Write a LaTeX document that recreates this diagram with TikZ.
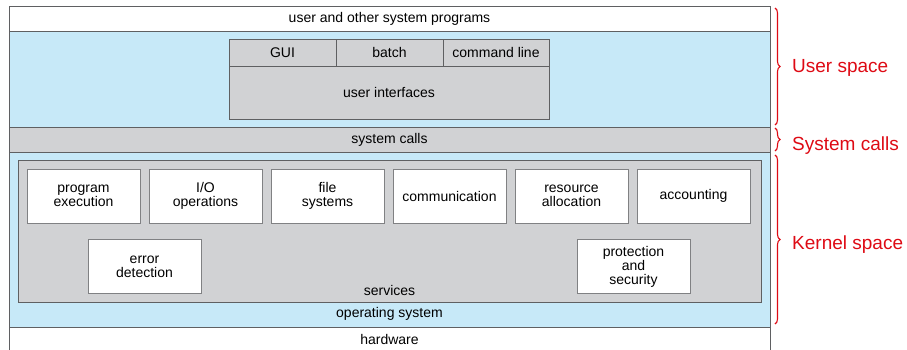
\documentclass[tikz,border=0pt]{standalone}
\usepackage{fontspec}
\setmainfont{Liberation Sans}
\usetikzlibrary{positioning,decorations.pathreplacing}

\definecolor{layerblue}{RGB}{199,233,248}
\definecolor{layergray}{RGB}{209,210,212}
\definecolor{edgegray}{RGB}{95,96,98}
\definecolor{boxedge}{RGB}{128,129,131}
\definecolor{spacered}{RGB}{222,10,20}

\begin{document}
\begin{tikzpicture}[x=1pt, y=-1pt, node distance=9pt,
    layer/.style={rectangle, draw=edgegray, line width=0.8pt, minimum width=761pt, inner sep=0pt, font=\fontsize{14}{14}\selectfont},
    uicell/.style={rectangle, draw=edgegray, fill=layergray, line width=0.8pt, minimum height=27pt, inner sep=0pt, outer sep=0pt, font=\fontsize{14}{14}\selectfont},
    service/.style={rectangle, draw=boxedge, fill=white, line width=1pt, minimum width=113pt, minimum height=54pt, inner sep=0pt, outer sep=0pt, align=center, font=\fontsize{14}{14}\selectfont},
    tag/.style={inner sep=0pt, font=\fontsize{14}{14}\selectfont},
    spacebrace/.style={draw=spacered, line width=1.1pt, decorate, decoration={brace, amplitude=5pt}},
    spacetag/.style={anchor=west, inner sep=0pt, text=spacered, font=\fontsize{19}{20}\selectfont}]
    \useasboundingbox (0,0) rectangle (907,349);

    % Layers
    \node (programs) [layer, fill=white, minimum height=25pt] at (389.5,18.5) {user and other system programs};
    \node (userspace) [layer, fill=layerblue, minimum height=96pt] at (389.5,79) {};
    \node (syscalls) [layer, fill=layergray, minimum height=25pt] at (389.5,139.5) {system calls};
    \node (kernel) [layer, fill=layerblue, minimum height=175pt] at (389.5,239.5) {};
    \node (hardware) [layer, fill=white, minimum height=24pt] at (389.5,339) {hardware};
    \node (oslabel) [tag] at (389.5,314) {operating system};

    % User interfaces
    \node (gui) [uicell, minimum width=107pt] at (282.5,52.5) {GUI};
    \node (batch) [uicell, minimum width=107pt, right=0pt of gui] {batch};
    \node (cmdline) [uicell, minimum width=106pt, right=0pt of batch] {command line};
    \node (ui) [uicell, minimum width=320pt, minimum height=53pt] at (389,92.5) {user interfaces};

    % Services
    \node (services) [rectangle, draw=edgegray, fill=layergray, line width=0.8pt, minimum width=743pt, minimum height=142pt] at (389.5,231) {};
    \node (svclabel) [tag] at (389.5,290) {services};
    \node (progexec) [service] at (83.5,196) {program\\execution};
    \node (io) [service, right=of progexec] {I/O\\operations};
    \node (files) [service, right=of io] {file\\systems};
    \node (comm) [service, right=of files] {communication};
    \node (resource) [service, right=of comm] {resource\\allocation};
    \node (account) [service, right=of resource] {accounting};
    \node (errdet) [service] at (144.5,266.5) {error\\detection};
    \node (protect) [service] at (633.5,266.5) {protection\\and\\security};

    % Braces
    \coordinate (ustop) at (775,8);
    \coordinate (usbot) at (775,125);
    \coordinate (sctop) at (775,128);
    \coordinate (scbot) at (775,151);
    \coordinate (kstop) at (775,155);
    \coordinate (ksbot) at (775,324);
    \draw[spacebrace] (ustop) -- (usbot);
    \draw[spacebrace] (sctop) -- (scbot);
    \draw[spacebrace] (kstop) -- (ksbot);
    \node (uslabel) [spacetag] at (792,67.5) {User space};
    \node (sclabel) [spacetag] at (792,146) {System calls};
    \node (kslabel) [spacetag] at (792,244.5) {Kernel space};
\end{tikzpicture}
\end{document}
